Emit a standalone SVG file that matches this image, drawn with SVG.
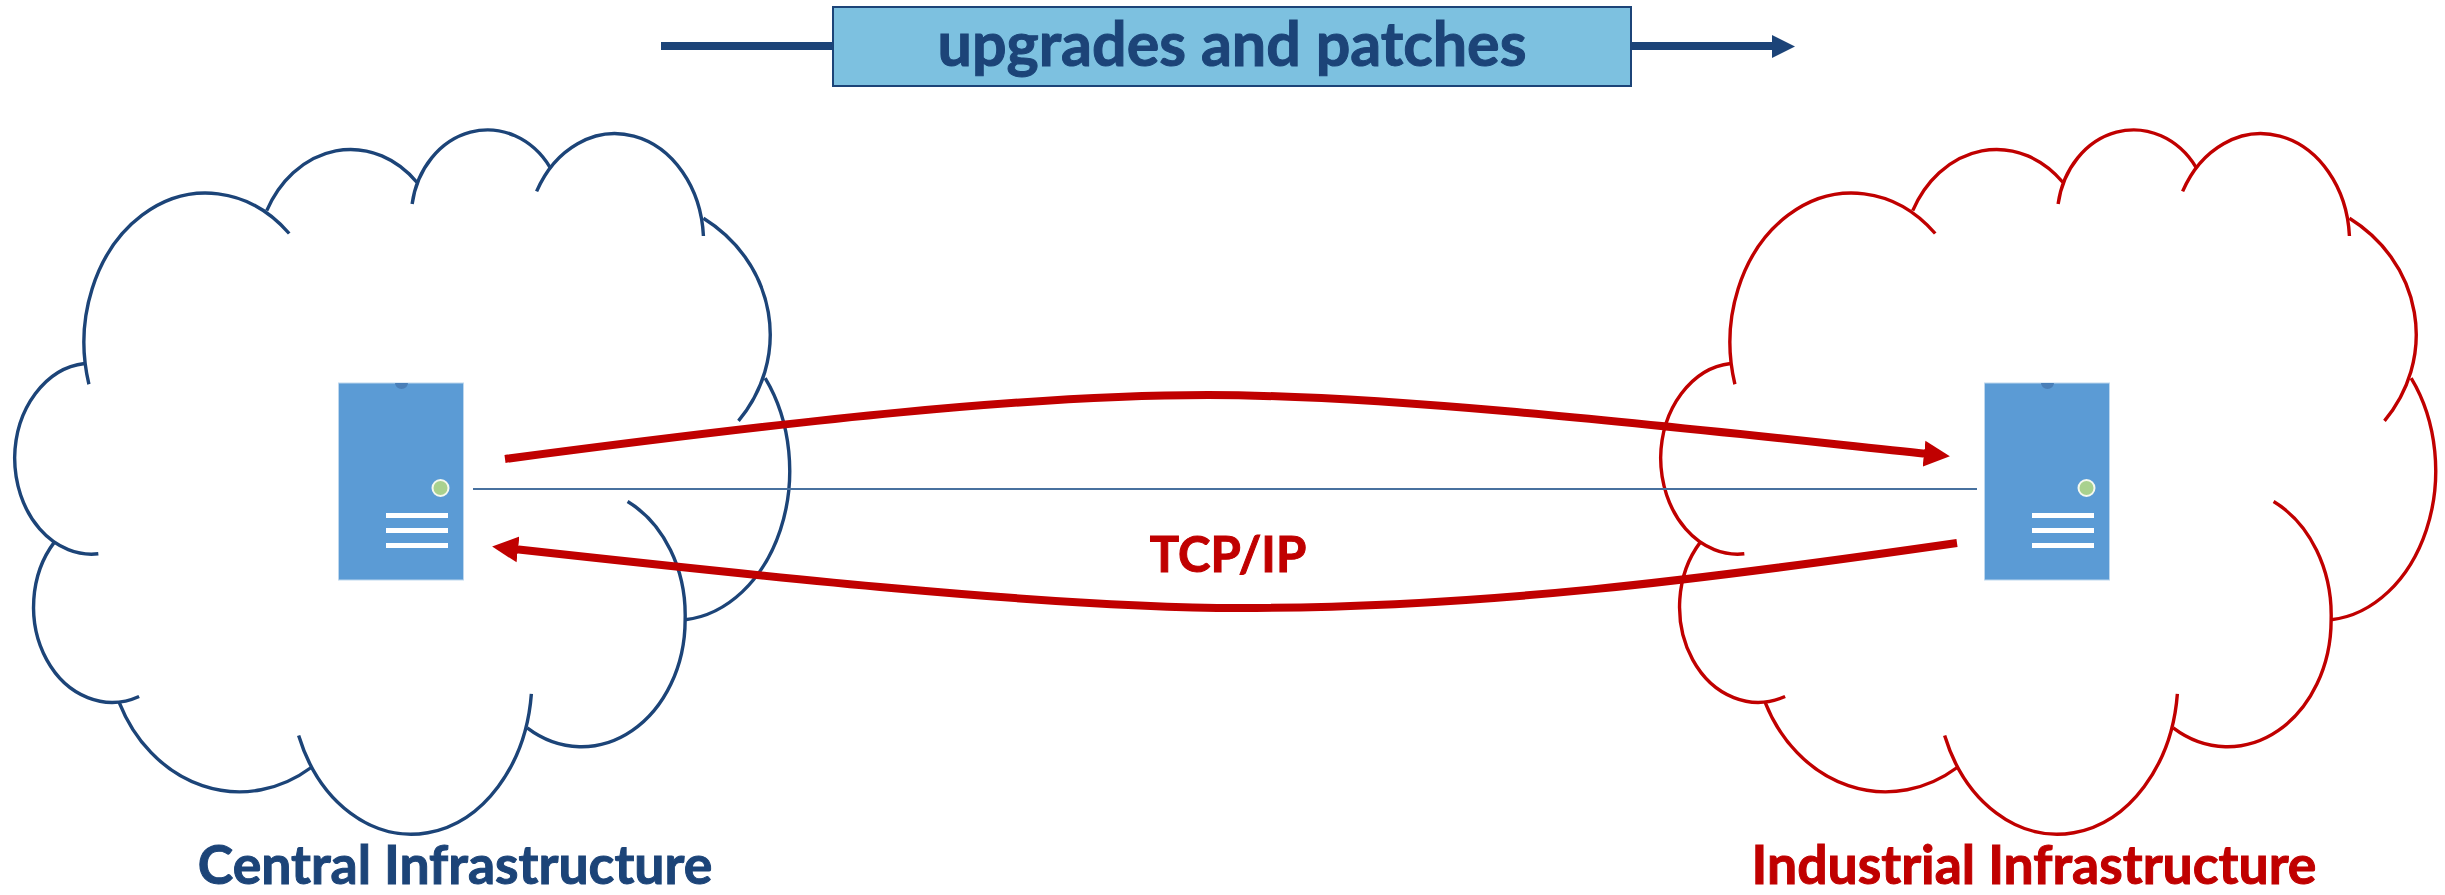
<svg xmlns="http://www.w3.org/2000/svg" width="2445" height="895" viewBox="0 0 2445 895">
<style>
.lobe{fill:none;stroke-width:3.4;stroke-linecap:butt;stroke:currentColor;vector-effect:non-scaling-stroke}
.blue{color:#1c4478}
.red{color:#c00000}
.srv{fill:#5b9bd5;stroke:#bdd7ee;stroke-width:1}
.bar{fill:#fff}
.lbl{font-family:"Lato","Liberation Sans",sans-serif;font-weight:700;text-anchor:middle;stroke-width:1}
.flow{fill:none;stroke:#c00000;stroke-width:8}
</style>
<defs>
<marker id="redhead" markerUnits="userSpaceOnUse" markerWidth="30" markerHeight="30" refX="4" refY="13" orient="auto" viewBox="0 0 30 26">
<path d="M0,0L26,13L0,26z" fill="#c00000"/>
</marker>
<g id="cloud">
<path class="lobe" d="M170,560A233,294 0 0 1 553,263"/>
<path class="lobe" d="M510,218A180,222 0 0 1 797,162"/>
<path class="lobe" d="M788,205A146,173 0 0 1 1052,133"/>
<path class="lobe" d="M1026,180A169.500,214 0 0 1 1345,268"/>
<path class="lobe" d="M1345,233A285,275 0 0 1 1412,632"/>
<path class="lobe" d="M1463,548A220,295 0 0 1 1310,1024"/>
<path class="lobe" d="M1200,791A198,250 0 0 1 1310,1024A198,250 0 0 1 1008,1237"/>
<path class="lobe" d="M1016,1170A231,306 0 0 1 571,1252"/>
<path class="lobe" d="M595,1315A253,301 0 0 1 228,1187"/>
<path class="lobe" d="M266,1175A150,188 0 0 1 104,871"/>
<path class="lobe" d="M188,894A147,190 0 0 1 28,705A147,190 0 0 1 162,519"/>
</g>
<g id="server">
<rect class="srv" x="338.500" y="383" width="125" height="197"/>
<path d="M395,383a6.500,6 0 0 0 13,0z" fill="#4a7fb8"/>
<circle cx="440.500" cy="488" r="8" fill="#a9d18e" stroke="#f4f8ee" stroke-width="2"/>
<rect class="bar" x="386" y="513" width="62" height="5"/>
<rect class="bar" x="386" y="528" width="62" height="5"/>
<rect class="bar" x="386" y="543" width="62" height="5"/>
</g>
</defs>
<g id="central-cloud" class="blue"><use href="#cloud" transform="translate(0,100) scale(.523,.5076)"/></g>
<g id="industrial-cloud" class="red"><use href="#cloud" transform="translate(1646,100) scale(.523,.5076)"/></g>
<g id="central-server"><use href="#server"/></g>
<g id="industrial-server"><use href="#server" x="1646"/></g>
<g id="connectors">
<line x1="473" y1="489" x2="1977" y2="489" stroke="#48719f" stroke-width="2"/>
<path class="flow" marker-end="url(#redhead)" d="M505,459C800,420 1030,395 1208,395C1400,395 1700,430 1928,454"/>
<path class="flow" marker-end="url(#redhead)" d="M1957,543C1700,580 1480,608 1240,608C1050,608 750,575 514,549"/>
<path d="M661,46H833M1631,46H1775" fill="none" stroke="#1c4478" stroke-width="8"/>
<path d="M1772,35L1795,46.500L1772,58z" fill="#1c4478"/>
</g>
<g id="upgrades">
<rect x="833" y="7" width="798" height="79" fill="#7dc1e0" stroke="#1c4478" stroke-width="2"/>
<text class="lbl" x="1232" y="66" font-size="61" fill="#1c4478" stroke="#1c4478">upgrades and patches</text>
</g>
<g id="labels">
<text class="lbl" x="1228" y="572" font-size="49" fill="#c00000" stroke="#c00000">TCP/IP</text>
<text class="lbl" x="455" y="884" font-size="53.500" fill="#1c4478" stroke="#1c4478">Central Infrastructure</text>
<text class="lbl" x="2034" y="884" font-size="53.500" fill="#c00000" stroke="#c00000">Industrial Infrastructure</text>
</g>
</svg>
